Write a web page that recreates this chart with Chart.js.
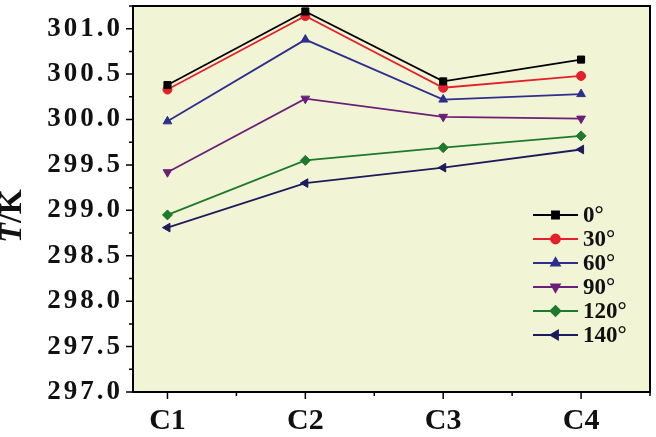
<!DOCTYPE html>
<html>
<head>
<meta charset="utf-8">
<script src="https://cdn.jsdelivr.net/npm/chart.js@4/dist/chart.umd.min.js"></script>
<style>
  html, body { margin: 0; padding: 0; background: #fff; }
  #wrap { width: 656px; height: 437px; position: relative; }
</style>
</head>
<body>
<div id="wrap"><canvas id="chart" width="656" height="437"></canvas></div>
<script>
  // categories and values
  const categories = ['C1', 'C2', 'C3', 'C4'];
  const seriesNames = ['0°', '30°', '60°', '90°', '120°', '140°'];
  const t0   = [300.38, 301.19, 300.42, 300.66];
  const t30  = [300.33, 301.14, 300.35, 300.48];
  const t60  = [299.98, 300.88, 300.22, 300.28];
  const t90  = [299.42, 300.23, 300.03, 300.01];
  const t120 = [298.95, 299.55, 299.69, 299.82];
  const t140 = [298.81, 299.30, 299.47, 299.67];
  const yTicks = [297.0, 297.5, 298.0, 298.5, 299.0, 299.5, 300.0, 300.5, 301.0];

  const colors = ['#000000', '#e3212b', '#2e2e8e', '#6c1f78', '#1d7a2c', '#1c1c5c'];
  const styles = ['rect', 'circle', 'triangle', 'triangle', 'rectRot', 'triangle'];
  const rots = [0, 0, 0, 180, 0, -90];
  const radii = [5, 4.5, 5, 5, 5, 5];
  const values = [t0, t30, t60, t90, t120, t140];

  const serif = "'Liberation Serif', 'Times New Roman', Times, serif";

  const datasets = values.map((vals, i) => ({
    label: seriesNames[i],
    data: vals.map((v, j) => ({ x: j + 1, y: v })),
    borderColor: colors[i],
    backgroundColor: colors[i],
    borderWidth: 1.8,
    pointStyle: styles[i],
    rotation: rots[i],
    pointRadius: radii[i],
    pointBorderWidth: 1,
    tension: 0
  }));

  const noPad = s => { s.paddingTop = 0; s.paddingBottom = 0; s.paddingLeft = 0; s.paddingRight = 0; };

  // the printed y labels are widely spaced
  function spaceLabels(s, px) {
    if (s._spaced) return;
    s._spaced = true;
    const orig = s.drawLabels;
    s.drawLabels = function (area) {
      const ctx = this.ctx;
      ctx.letterSpacing = px;
      orig.call(this, area);
      ctx.letterSpacing = '0px';
    };
  }

  // frame, background, tick marks, axis title and the inset legend
  const decor = {
    id: 'decor',
    beforeDraw(chart) {
      const { ctx, chartArea: a } = chart;
      ctx.save();
      ctx.fillStyle = '#f2f5d5';
      ctx.fillRect(a.left, a.top, a.right - a.left, a.bottom - a.top);
      ctx.restore();
    },
    afterDraw(chart) {
      const { ctx, chartArea: a, scales } = chart;
      ctx.save();
      ctx.strokeStyle = '#000';
      ctx.lineWidth = 2;
      ctx.strokeRect(a.left, a.top, a.right - a.left, a.bottom - a.top);

      ctx.lineWidth = 1.5;
      ctx.beginPath();
      for (let v = 297; v <= 301.25 + 1e-9; v += 0.25) {
        const y = scales.y.getPixelForValue(v);
        const major = Math.abs(v * 2 - Math.round(v * 2)) < 1e-6;
        ctx.moveTo(a.left, y);
        ctx.lineTo(a.left - (major ? 7 : 4), y);
      }
      for (let v = 1; v <= 4.5; v += 0.5) {
        const x = scales.x.getPixelForValue(v);
        const major = Number.isInteger(v);
        ctx.moveTo(x, a.bottom);
        ctx.lineTo(x, a.bottom + (major ? 7 : 4));
      }
      ctx.stroke();

      // y axis title: italic T, upright /K
      ctx.translate(13, 216);
      ctx.rotate(-Math.PI / 2);
      ctx.fillStyle = '#111';
      ctx.textBaseline = 'middle';
      ctx.font = 'italic bold 32px ' + serif;
      const wT = ctx.measureText('T').width;
      ctx.font = 'bold 32px ' + serif;
      const wK = ctx.measureText('/K').width;
      const x0 = -(wT + wK) / 2;
      ctx.font = 'italic bold 32px ' + serif;
      ctx.textAlign = 'left';
      ctx.fillText('T', x0, 0);
      ctx.font = 'bold 32px ' + serif;
      ctx.fillText('/K', x0 + wT, 0);
      ctx.setTransform(1, 0, 0, 1, 0, 0);

      // legend inside the plot
      const lx = 533, lw = 45, ly0 = 215, dy = 24;
      chart.data.datasets.forEach((ds, i) => {
        const y = ly0 + i * dy;
        ctx.strokeStyle = ds.borderColor;
        ctx.lineWidth = 1.8;
        ctx.beginPath();
        ctx.moveTo(lx, y);
        ctx.lineTo(lx + lw, y);
        ctx.stroke();
        ctx.fillStyle = ds.backgroundColor;
        Chart.helpers.drawPoint(ctx, {
          pointStyle: ds.pointStyle, rotation: ds.rotation,
          radius: ds.pointRadius, borderWidth: 1
        }, lx + lw / 2, y);
        ctx.fillStyle = '#111';
        ctx.font = 'bold 23px ' + serif;
        ctx.textAlign = 'left';
        ctx.textBaseline = 'middle';
        ctx.fillText(ds.label, lx + lw + 5, y + 1);
      });
      ctx.restore();
    }
  };

  function draw() {
    new Chart(document.getElementById('chart'), {
      type: 'line',
      data: { datasets },
      options: {
        responsive: false,
        animation: false,
        layout: { padding: { top: 6, right: 5, left: 0, bottom: 0 } },
        plugins: { legend: { display: false }, tooltip: { enabled: false } },
        scales: {
          x: {
            type: 'linear', min: 0.75, max: 4.5,
            afterBuildTicks: s => { s.ticks = categories.map((c, i) => ({ value: i + 1 })); },
            afterFit: s => { s.height = 45; noPad(s); },
            grid: { display: false, drawTicks: false },
            border: { display: false },
            ticks: {
              padding: 11, color: '#111', maxRotation: 0,
              font: { family: serif, size: 30, weight: 'bold' },
              callback: v => categories[v - 1]
            }
          },
          y: {
            min: 297, max: 301.25,
            afterBuildTicks: s => { s.ticks = yTicks.map(v => ({ value: v })); },
            afterFit: s => { s.width = 133; noPad(s); spaceLabels(s, '3px'); },
            grid: { display: false, drawTicks: false },
            border: { display: false },
            ticks: {
              padding: 10, color: '#111',
              font: { family: serif, size: 27, weight: 'bold' },
              callback: v => v.toFixed(1)
            }
          }
        }
      },
      plugins: [decor]
    });
  }

  Promise.all([
    document.fonts.load("bold 28px 'Liberation Serif'"),
    document.fonts.load("italic bold 32px 'Liberation Serif'")
  ]).then(draw, draw);
</script>
</body>
</html>
